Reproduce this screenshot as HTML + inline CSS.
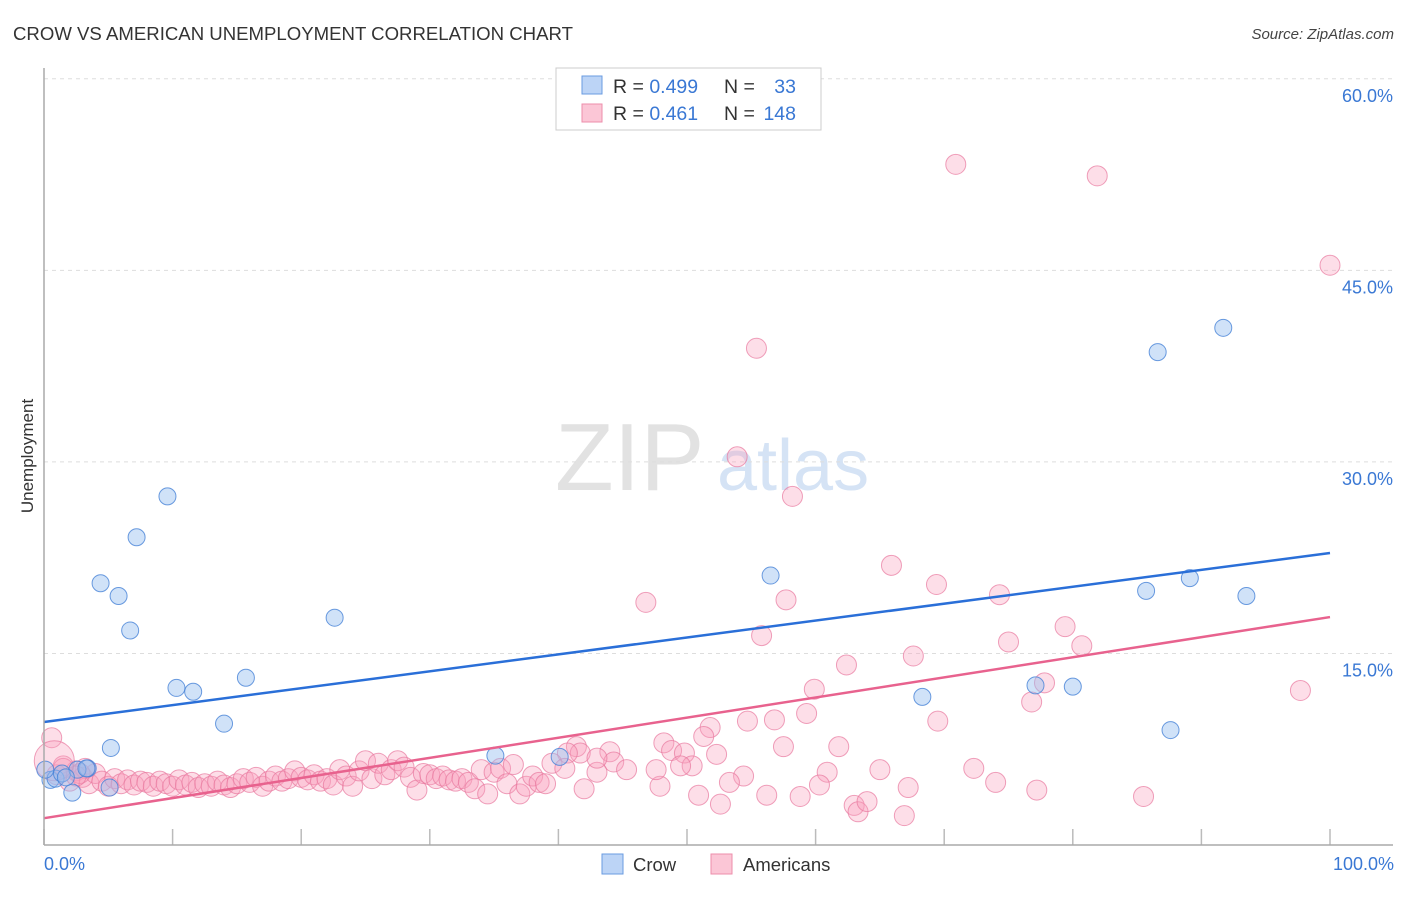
<!DOCTYPE html>
<html><head><meta charset="utf-8"><style>
body{margin:0;background:#fff;font-family:"Liberation Sans",sans-serif;}
svg text{font-family:"Liberation Sans",sans-serif;}
</style></head><body>
<svg id="chart" width="1406" height="892" viewBox="0 0 1406 892" xmlns="http://www.w3.org/2000/svg">
<text x="13" y="40" font-size="18.6" fill="#333">CROW VS AMERICAN UNEMPLOYMENT CORRELATION CHART</text>
<text x="1394" y="39" font-size="15" fill="#444" text-anchor="end" font-style="italic">Source: ZipAtlas.com</text>
<text x="555" y="490" font-size="96" fill="#e2e2e2" font-family="Liberation Serif,serif">ZIP</text>
<text x="717" y="490" font-size="72" fill="#d5e3f5">atlas</text>
<text transform="translate(33,456) rotate(-90)" font-size="17" fill="#333" text-anchor="middle">Unemployment</text>
<g id="grid"></g>
<g id="marks"></g>
<line x1="44" y1="68" x2="44" y2="845" stroke="#aaa" stroke-width="1.5"/>
<line x1="44" y1="845" x2="1393" y2="845" stroke="#aaa" stroke-width="1.5"/>
<text x="44" y="870" font-size="18" fill="#3a78d4">0.0%</text>
<text x="1394" y="870" font-size="18" fill="#3a78d4" text-anchor="end">100.0%</text>
<g>
<rect x="556" y="68" width="265" height="62" fill="#fff" stroke="#ccc"/>
<rect x="582" y="76" width="20" height="18" fill="#bcd4f6" stroke="#6a9be0"/>
<rect x="582" y="104" width="20" height="18" fill="#fbc6d6" stroke="#ec8eab"/>
<text x="613" y="93" font-size="19.5" fill="#333">R = <tspan fill="#3a78d4">0.499</tspan></text>
<text x="724" y="93" font-size="19.5" fill="#333">N =</text><text x="796" y="93" font-size="19.5" fill="#3a78d4" text-anchor="end">33</text>
<text x="613" y="120" font-size="19.5" fill="#333">R =  <tspan fill="#3a78d4">0.461</tspan></text>
<text x="724" y="120" font-size="19.5" fill="#333">N =</text><text x="796" y="120" font-size="19.5" fill="#3a78d4" text-anchor="end">148</text>
</g>
<g>
<rect x="602" y="854" width="21" height="20" fill="#bcd4f6" stroke="#6a9be0"/>
<text x="633" y="871" font-size="18.5" fill="#333">Crow</text>
<rect x="711" y="854" width="21" height="20" fill="#fbc6d6" stroke="#ec8eab"/>
<text x="743" y="871" font-size="18.5" fill="#333">Americans</text>
</g>
</svg>
<script>
const yTicks=[15,30,45,60];
const xTicks=[0,10,20,30,40,50,60,70,80,90,100];
const crowX=[0.5,0.9,1.4,2.2,3.4,4.4,5.2,5.8,6.7,7.2,9.6,10.3,11.6,14.0,15.7,22.6,35.1,40.1,56.5,68.3,77.1,80.0,85.7,86.6,87.6,89.1,91.7,93.5,2.6,3.3,5.1,1.7,0.1];
const crowY=[5.1,5.2,5.6,4.1,6.0,20.5,7.6,19.5,16.8,24.1,27.3,12.3,12.0,9.5,13.1,17.8,7.0,6.9,21.1,11.6,12.5,12.4,19.9,38.6,9.0,20.9,40.5,19.5,5.9,6.0,4.5,5.3,5.9];
const amX=[70.9,81.9,100,55.4,53.9,58.2,65.9,69.4,74.3,46.8,57.7,55.8,79.4,75.0,80.7,67.6,62.4,59.9,77.8,76.8,97.7,59.3,69.5,54.7,56.8,51.8,51.3,61.8,57.5,48.2,48.8,49.8,52.3,50.4,49.5,44.0,44.3,41.4,41.7,40.7,65.0,60.9,72.3,54.4,53.3,47.9,50.9,52.6,56.2,58.8,60.3,63.0,63.3,64.0,67.2,66.9,74.0,77.2,85.5,0.6,45.3,47.6,43.0,
1.0,1.5,2.0,2.5,3.0,3.5,4.0,4.5,5.0,5.5,6.0,6.5,7.0,7.5,8.0,8.5,9.0,9.5,10.0,10.5,11.0,11.5,12.0,12.5,13.0,13.5,14.0,14.5,15.0,15.5,16.0,16.5,17.0,17.5,18.0,18.5,19.0,19.5,20.0,20.5,21.0,21.5,22.0,22.5,23.0,23.5,24.0,24.5,25.0,25.5,26.0,26.5,27.0,27.5,28.0,28.5,29.0,29.5,30.0,30.5,31.0,31.5,32.0,32.5,33.0,33.5,34.0,34.5,35.0,35.5,36.0,36.5,37.0,37.5,38.0,38.5,39.0,39.5,40.5,42.0,43.0,3.2,2.8,1.5,2.5,0.8];
const amY=[53.3,52.4,45.4,38.9,30.4,27.3,21.9,20.4,19.6,19.0,19.2,16.4,17.1,15.9,15.6,14.8,14.1,12.2,12.7,11.2,12.1,10.3,9.7,9.7,9.8,9.2,8.5,7.7,7.7,8.0,7.4,7.2,7.1,6.2,6.2,7.3,6.5,7.7,7.2,7.2,5.9,5.7,6.0,5.4,4.9,4.6,3.9,3.2,3.9,3.8,4.7,3.1,2.6,3.4,4.5,2.3,4.9,4.3,3.8,8.4,5.9,5.9,5.7,
5.5,6.2,5.0,5.8,5.3,4.8,5.6,5.0,4.6,5.2,4.8,5.1,4.7,5.0,4.9,4.6,5.0,4.8,4.6,5.1,4.7,4.9,4.5,4.8,4.6,5.0,4.7,4.5,4.8,5.2,4.9,5.3,4.6,5.0,5.4,5.0,5.2,5.8,5.3,5.1,5.5,5.0,5.2,4.7,5.9,5.4,4.6,5.8,6.6,5.2,6.4,5.5,5.9,6.6,6.1,5.3,4.3,5.6,5.5,5.2,5.4,5.1,5.0,5.2,4.9,4.4,5.9,4.0,5.7,6.0,4.8,6.3,4.0,4.6,5.4,4.9,4.8,6.4,6.0,4.4,6.8,6.0,5.6,6.0,5.4,6.6];
const amBig=[148,149,150];
const crowLine=[9.63,22.87];
const amLine=[2.1,17.85];
const NS='http://www.w3.org/2000/svg';
function sx(v){return 44+v*12.86;}
function sy(v){return 845-v*12.77;}
const grid=document.getElementById('grid');
const marks=document.getElementById('marks');
function mk(tag,attrs,parent){const e=document.createElementNS(NS,tag);for(const k in attrs)e.setAttribute(k,attrs[k]);parent.appendChild(e);return e;}
yTicks.forEach(t=>{
  const l=mk('line',{x1:44,x2:1393,y1:sy(t),y2:sy(t),stroke:'#ddd','stroke-dasharray':'4,4'},grid);
  
  
  const tx=mk('text',{x:1393,y:sy(t)+23,'font-size':18,fill:'#3a78d4','text-anchor':'end'},grid);
  tx.textContent=t.toFixed(1)+'%';
  
  
});
xTicks.forEach(t=>{
  const l=mk('line',{x1:sx(t),x2:sx(t),y1:829,y2:845,stroke:'#bbb','stroke-width':1.5},grid);
  
  
});
amX.forEach((x,i)=>{
  const r=amBig.includes(i)?(i===150?13:20):10;
  const c=mk('circle',{cx:sx(x),cy:sy(amY[i]),r:r,fill:'rgba(248,160,188,0.35)',stroke:'rgba(232,120,158,0.7)','stroke-width':1},marks);
  
  
});
crowX.forEach((x,i)=>{
  const c=mk('circle',{cx:sx(x),cy:sy(crowY[i]),r:8.5,fill:'rgba(150,190,240,0.45)',stroke:'rgba(70,130,215,0.8)','stroke-width':1},marks);
  
  
});
const l1=mk('line',{x1:sx(0),y1:sy(crowLine[0]),x2:sx(100),y2:sy(crowLine[1]),stroke:'#2a6fd8','stroke-width':2.5},marks);


const l2=mk('line',{x1:sx(0),y1:sy(amLine[0]),x2:sx(100),y2:sy(amLine[1]),stroke:'#e8628e','stroke-width':2.5},marks);


</script>
</body></html>
